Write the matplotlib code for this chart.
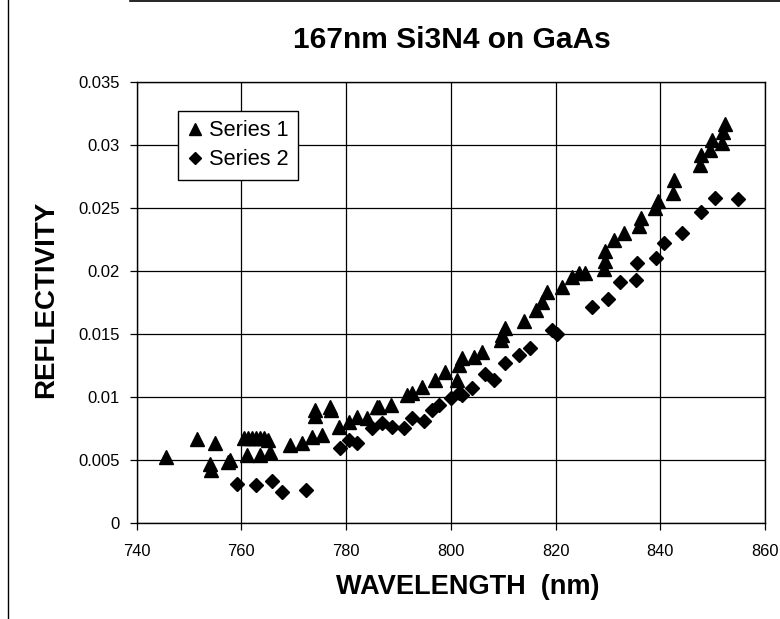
import matplotlib
matplotlib.use("Agg")
import matplotlib.pyplot as plt
from matplotlib.lines import Line2D

plt.rcParams['font.family'] = ['Liberation Sans', 'DejaVu Sans']

title = "167nm Si3N4 on GaAs"
xlabel = "WAVELENGTH  (nm)"
ylabel = "REFLECTIVITY"
series_names = ["Series 1", "Series 2"]
xticks = [740, 760, 780, 800, 820, 840, 860]
yticks = [0, 0.005, 0.01, 0.015, 0.02, 0.025, 0.03, 0.035]
ytick_labels = ["0", "0.005", "0.01", "0.015", "0.02", "0.025", "0.03", "0.035"]

s1_x = [745.6, 751.6, 754.0, 754.2, 755.0, 757.5, 757.8, 760.4, 761.2, 762.0, 762.8, 763.6, 764.4,
        765.0, 761.0, 763.6, 765.5, 769.3, 771.5, 773.5, 774.1, 774.1, 775.4, 777.0, 777.1,
        778.7, 780.5, 782.1, 784.0, 785.9, 786.2, 788.6, 791.6, 792.5, 794.5, 797.0, 798.9,
        801.2, 801.5, 802.1, 804.4, 806.0, 809.5, 809.8, 810.4, 813.9, 816.2, 817.4, 818.4,
        821.3, 823.2, 824.4, 825.7, 829.3, 829.4, 829.5, 831.1, 833.0, 836.0, 836.3, 838.9,
        839.5, 842.5, 842.7, 847.5, 847.8, 849.5, 849.8, 851.7, 852.0, 852.3]
s1_y = [0.00523, 0.00668, 0.00470, 0.00425, 0.00634, 0.00484, 0.00500, 0.00676, 0.00676, 0.00676,
        0.00676, 0.00676, 0.00676, 0.00660, 0.00542, 0.00542, 0.00568, 0.00620, 0.00634, 0.00687,
        0.00900, 0.00850, 0.00700, 0.00925, 0.00900, 0.00766, 0.00806, 0.00846, 0.00833, 0.00925,
        0.00925, 0.00938, 0.01017, 0.01030, 0.01083, 0.01136, 0.01202, 0.01136, 0.01255, 0.01308,
        0.01321, 0.01361, 0.01450, 0.01493, 0.01546, 0.01605, 0.01691, 0.01757, 0.01836, 0.01876,
        0.01956, 0.01982, 0.01982, 0.02020, 0.02080, 0.02160, 0.02247, 0.02300, 0.02360, 0.02420,
        0.02500, 0.02560, 0.02620, 0.02720, 0.02840, 0.02920, 0.02960, 0.03040, 0.03020, 0.03100,
        0.03170]

s2_x = [759.2, 762.7, 765.8, 767.7, 772.4, 778.9, 780.5, 782.1, 784.9, 786.8, 788.8, 791.0,
        792.6, 794.8, 796.4, 797.7, 800.0, 801.5, 802.1, 804.1, 806.6, 808.2, 810.4, 813.0,
        815.2, 819.4, 820.3, 827.0, 830.0, 832.4, 835.3, 835.5, 839.1, 840.7, 844.2, 847.7,
        850.4, 854.8]
s2_y = [0.00312, 0.00304, 0.00338, 0.00246, 0.00264, 0.00595, 0.00660, 0.00639, 0.00753, 0.00793,
        0.00766, 0.00753, 0.00833, 0.00814, 0.00899, 0.00938, 0.00991, 0.01031, 0.01017, 0.01075,
        0.01183, 0.01136, 0.01269, 0.01335, 0.01388, 0.01533, 0.01505, 0.01713, 0.01776, 0.01916,
        0.01929, 0.02067, 0.02101, 0.02220, 0.02304, 0.02471, 0.02582, 0.02569]

W, H = 780, 619
fig = plt.figure(figsize=(W / 100, H / 100), dpi=100)
ax = fig.add_axes([136.7 / W, 1 - 523.3 / H, (765 - 136.7) / W, (523.3 - 82) / H])

ax.plot(s1_x, s1_y, linestyle='none', marker='^', markersize=10, color='black',
        label=series_names[0], zorder=3)
ax.plot(s2_x, s2_y, linestyle='none', marker='D', markersize=7.2, color='black',
        label=series_names[1], zorder=3)

ax.set_xlim(740, 860)
ax.set_ylim(0, 0.035)
ax.set_xticks(xticks)
ax.set_xticklabels([str(t) for t in xticks])
ax.set_yticks(yticks)
ax.set_yticklabels(ytick_labels)
ax.grid(True, color='black', linewidth=0.9)
ax.set_axisbelow(True)
ax.tick_params(direction='out', length=5, width=0.9, colors='black')
ax.tick_params(axis='x', labelsize=11.8, pad=10)
ax.tick_params(axis='y', labelsize=12, pad=7)
for sp in ax.spines.values():
    sp.set_color('black')
    sp.set_linewidth(1.0)

fig.text(467.5 / W, 1 - 594 / H, xlabel, ha='center', va='baseline', fontsize=19.5,
         fontweight='bold')
fig.text(53.3 / W, 1 - 299 / H, ylabel, ha='center', va='baseline', rotation=90,
         rotation_mode='anchor', fontsize=20, fontweight='bold')
fig.text(451.7 / W, 1 - 48.3 / H, title, ha='center', va='baseline', fontsize=21.5,
         fontweight='bold')

leg = ax.legend(loc='upper left', bbox_to_anchor=((178.3 - 136.7) / 628.3, (523.3 - 111) / 441.3),
                borderaxespad=0, fontsize=15.7, frameon=True, fancybox=False, framealpha=1,
                edgecolor='black', handlelength=0.67, handletextpad=0.31, labelspacing=0.37,
                borderpad=0.43, markerscale=0.85)
leg.get_frame().set_linewidth(1.0)

# scanned frame edges
fig.add_artist(Line2D([8 / W, 8 / W], [0, 1], color='black', linewidth=1.0))
fig.add_artist(Line2D([130 / W, 1], [1 - 1 / H, 1 - 1 / H], color='black', linewidth=1.2))

fig.savefig("out.png", dpi=100)
